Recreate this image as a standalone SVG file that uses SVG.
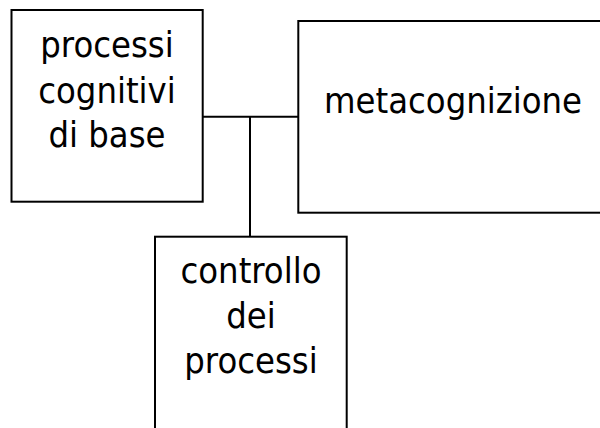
<svg xmlns="http://www.w3.org/2000/svg" width="600" height="428" viewBox="0 0 600 428">
<style>
.box{fill:#fff;stroke:#000;stroke-width:2}
.lbl{font-family:"DejaVu Sans Condensed","DejaVu Sans",sans-serif;font-stretch:condensed;font-size:36px;fill:#000;text-anchor:middle}
.conn{stroke:#000;stroke-width:2;fill:none}
</style>
<rect width="600" height="428" fill="#fff"/>
<g id="connectors">
<line class="conn" x1="202.7" y1="116.7" x2="298.3" y2="116.7"/>
<line class="conn" x1="250" y1="116.7" x2="250" y2="236.7"/>
</g>
<g id="node-processi">
<rect class="box" x="11.5" y="10" width="191.2" height="191.7"/>
<text class="lbl" x="107" y="57.3">processi</text>
<text class="lbl" x="107" y="102.5">cognitivi</text>
<text class="lbl" x="107" y="147.3">di base</text>
</g>
<g id="node-metacognizione">
<rect class="box" x="298.3" y="21" width="310" height="191.7"/>
<text class="lbl" x="453" y="112.7">metacognizione</text>
</g>
<g id="node-controllo">
<rect class="box" x="155" y="236.7" width="191.7" height="200"/>
<text class="lbl" x="251" y="283.3">controllo</text>
<text class="lbl" x="251" y="328.3">dei</text>
<text class="lbl" x="251" y="373.3">processi</text>
</g>
</svg>
